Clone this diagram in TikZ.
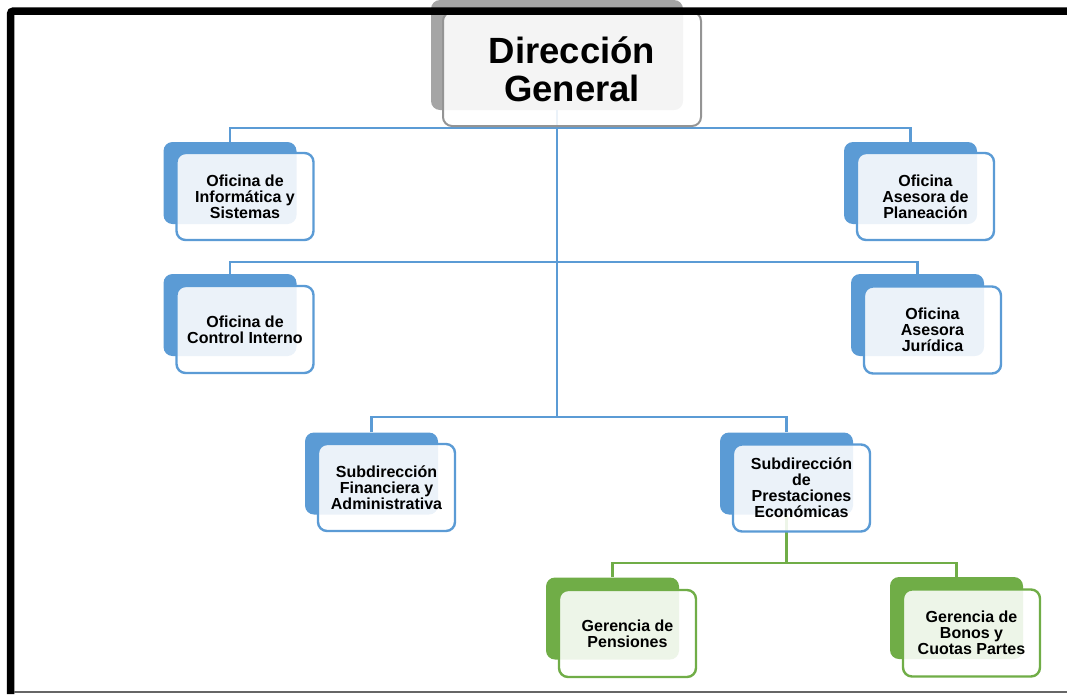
\documentclass[tikz,border=0pt]{standalone}
\usepackage{fontspec}
\setmainfont{Liberation Sans}
\usetikzlibrary{positioning,calc}
\definecolor{orgblue}{HTML}{5B9BD5}
\definecolor{orggreen}{HTML}{70AD47}
\definecolor{orggray}{HTML}{A5A5A5}

\begin{document}
\begin{tikzpicture}[x=1pt,y=-1pt,
	back/.style={rounded corners=9pt,inner sep=0pt,minimum width=133pt,minimum height=82pt},
	front/.style={draw,rounded corners=9pt,line width=2.4pt,fill=white,fill opacity=0.88,text opacity=1,inner sep=0pt,minimum width=137pt,minimum height=87pt,align=center,font=\fontsize{16}{16}\selectfont\bfseries},
	bline/.style={orgblue,line width=2.2pt},
	gline/.style={orggreen,line width=2.2pt}]
	\useasboundingbox (0,0) rectangle (1067,694);

	\begin{scope} % Back boxes
		\node[back,fill=orggray,minimum width=252pt,minimum height=110pt] (dgB) at (557,55) {};
		\node[back,fill=orgblue] (infB) at (230,183) {};
		\node[back,fill=orgblue] (plaB) at (910.5,183) {};
		\node[back,fill=orgblue] (ctlB) at (230,315) {};
		\node[back,fill=orgblue] (jurB) at (917.5,315) {};
		\node[back,fill=orgblue] (finB) at (371.5,473.5) {};
		\node[back,fill=orgblue] (preB) at (786.5,473.5) {};
		\node[back,fill=orggreen] (penB) at (612.5,618.5) {};
		\node[back,fill=orggreen] (bonB) at (956.5,618) {};
	\end{scope}

	\begin{scope} % Connectors
		\coordinate (busS) at ($(finB.north)+(0,-15)$);
		\coordinate (busG) at ($(penB.north)+(0,-14)$);
		\draw[bline](dgB.south) -- (dgB.south |- busS);
		\draw[bline](infB.north) -- ++(0,-14) -| (plaB.north);
		\draw[bline](ctlB.north) -- ++(0,-12) -| (jurB.north);
		\draw[bline](finB.north) -- (busS) -| (preB.north);
		\draw[gline](preB.south) -- (preB.south |- busG);
		\draw[gline](penB.north) -- (busG) -| (bonB.north);
	\end{scope}

	\begin{scope} % Front boxes
		\node[front,draw=orggray!90!black,line width=2pt,minimum width=258pt,minimum height=114pt,font=\fontsize{36.5}{38}\selectfont\bfseries] (dg) at (572,69) {Dirección\\General};
		\node[front,draw=orgblue] (inf) at (245,196.5) {Oficina de\\Informática y\\Sistemas};
		\node[front,draw=orgblue] (pla) at (925.5,196.5) {Oficina\\Asesora de\\Planeación};
		\node[front,draw=orgblue] (ctl) at (245,329.5) {Oficina de\\Control Interno};
		\node[front,draw=orgblue] (jur) at (932.5,330) {Oficina\\Asesora\\Jurídica};
		\node[front,draw=orgblue] (fin) at (386.5,487.5) {Subdirección\\Financiera y\\Administrativa};
		\node[front,draw=orgblue] (pre) at (801.5,488) {Subdirección\\de\\Prestaciones\\Económicas};
		\node[front,draw=orggreen] (pen) at (627.5,633.5) {Gerencia de\\Pensiones};
		\node[front,draw=orggreen] (bon) at (971.5,633) {Gerencia de\\Bonos y\\Cuotas Partes};
	\end{scope}

	\begin{scope} % Frame
		\draw[line width=7.5pt,rounded corners=3pt](10.5,694) -- (10.5,11) -- (1067,11);
		\draw[black!60,line width=1.2pt](14,692) -- (1067,692);
	\end{scope}
\end{tikzpicture}
\end{document}
